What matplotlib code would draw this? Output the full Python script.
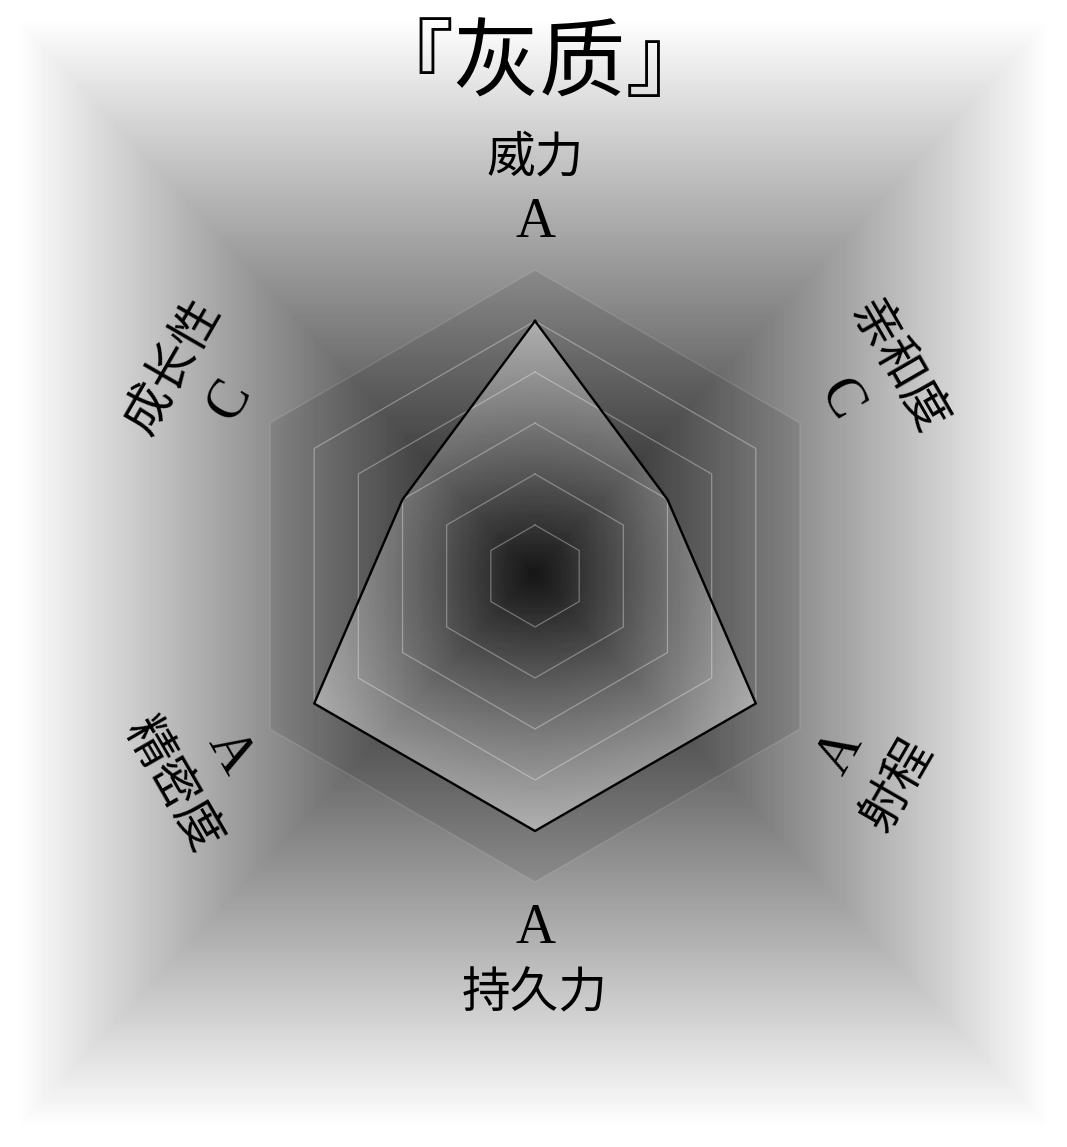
import numpy as np
import matplotlib.pyplot as plt
from matplotlib.patches import Polygon

# 替身数据
title = '『灰质』'
labels = ['威力', '亲和度', '射程', '持久力', '精密度', '成长性']
grades = ['A', 'C', 'A', 'A', 'A', 'C']
grade_scale = ['E', 'D', 'C', 'B', 'A']   # E=1 ... A=5
rmax = 6

values = np.array([grade_scale.index(g) + 1 for g in grades], dtype=float)
angles = np.deg2rad(np.arange(len(labels)) * 360 / len(labels))  # clockwise from top

cjk = ['Noto Sans CJK SC', 'DejaVu Sans']
latin = ['Liberation Serif', 'DejaVu Serif']

W, H = 1067, 1147
fig = plt.figure(figsize=(W / 100, H / 100), dpi=100)

# background: pyramid gradient, dark center -> white edges
bg_ax = fig.add_axes([0, 0, 1, 1])
u = np.linspace(-1, 1, W)
v = np.linspace(-1, 1, H)
xx, yy = np.meshgrid(u, v)
t = np.maximum(np.abs(xx), np.abs(yy))
bg = np.clip(0.1 + 0.93 * t, 0, 1)
bg_ax.imshow(bg, cmap='gray', vmin=0, vmax=1, aspect='auto', extent=[0, 1, 0, 1])
bg_ax.set_xlim(0, 1)
bg_ax.set_ylim(0, 1)
bg_ax.axis('off')

# radar axes (data units, radar center at px (535, 576), radius 306 px)
L = 9.0
h = 306 * L / rmax
ax = fig.add_axes([(535 - h) / W, (H - 576 - h) / H, 2 * h / W, 2 * h / H])
ax.set_xlim(-L, L)
ax.set_ylim(-L, L)
ax.axis('off')
ax.patch.set_alpha(0)


def to_xy(r, th):
    return r * np.sin(th), r * np.cos(th)


# outer hexagon, slightly darker
ox, oy = to_xy(np.full(len(angles), rmax), angles)
ax.add_patch(Polygon(np.column_stack([ox, oy]), closed=True,
                     facecolor=(0, 0, 0, 0.09), edgecolor=(1, 1, 1, 0.12), lw=1))

# rings
for k in range(1, rmax):
    rx, ry = to_xy(np.full(len(angles), k), angles)
    ax.plot(np.append(rx, rx[0]), np.append(ry, ry[0]), color='white', alpha=0.33, lw=0.9)

# data polygon with radial light gradient
dx, dy = to_xy(values, angles)
poly = Polygon(np.column_stack([dx, dy]), closed=True, facecolor='none', edgecolor='none')
ax.add_patch(poly)
gx, gy = np.meshgrid(np.linspace(-rmax, rmax, 400), np.linspace(-rmax, rmax, 400))
gr = np.sqrt(gx ** 2 + gy ** 2)
grad = np.ones((400, 400, 4))
grad[..., 3] = 0.42 * np.clip(gr / values.max(), 0, 1) ** 1.2
im = ax.imshow(grad, extent=[-rmax, rmax, -rmax, rmax], origin='lower', zorder=2)
im.set_clip_path(poly)
ax.plot(np.append(dx, dx[0]), np.append(dy, dy[0]), color='black', lw=1.7, zorder=3)

# labels
for lab, g, th in zip(labels, grades, angles):
    rot = ((-np.rad2deg(th) + 90) % 180) - 90
    nx, ny = to_xy(8.2, th)
    gx_, gy_ = to_xy(6.92, th)
    ax.text(nx, ny, lab, family=cjk, fontsize=35, rotation=rot, rotation_mode='anchor',
            ha='center', va='center', color='black')
    ax.text(gx_, gy_, g, family=latin, fontsize=40, rotation=rot, rotation_mode='anchor',
            ha='center', va='center', color='black')

fig.text(540 / W, 1 - 66 / H, title, family=cjk, fontsize=62, ha='center', va='center',
         color='black')

fig.savefig('out.png', dpi=100)
